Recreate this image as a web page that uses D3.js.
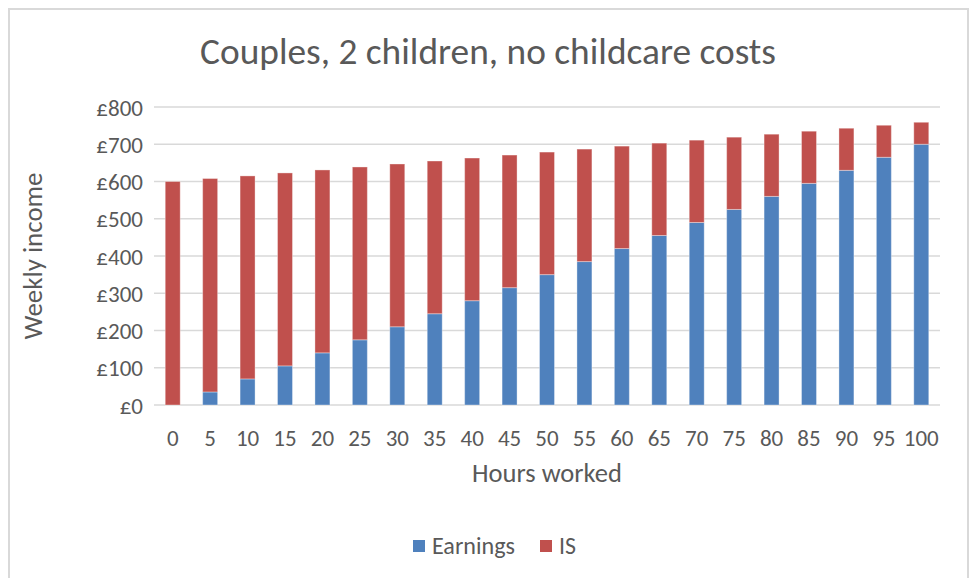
<!DOCTYPE html>
<html><head><meta charset="utf-8">
<script src="https://cdn.jsdelivr.net/npm/d3@7"></script>
<style>body{margin:0;background:#fff}svg{display:block}text{font-family:Carlito,"Open Sans",sans-serif;fill:#595959}</style>
</head><body><svg id="c" width="970" height="578"></svg>
<script>
const hours = [0,5,10,15,20,25,30,35,40,45,50,55,60,65,70,75,80,85,90,95,100];
const earnings = [0,35,70,105,140,175,210,245,280,315,350,385,420,455,490,525,560,595,630,665,700];
const isBenefit = [600,573,545,518,491,464,437,410,383,356,329,302,275,248,221,194,167,140,113,86,59];
const yTicks = [0,100,200,300,400,500,600,700,800];
const seriesNames = ["Earnings","IS"];
const colors = ["#4f81bd","#c0504d"];

const svg = d3.select("#c");
svg.append("rect").attr("x",9).attr("y",9).attr("width",959).attr("height",600)
  .attr("fill","#fff").attr("stroke","#d9d9d9").attr("stroke-width",2);

const L=154,R=940,T=107,B=405;
const x = d3.scaleBand().domain(hours).range([L,R]).paddingInner(0.6).paddingOuter(0.3);
const y = d3.scaleLinear().domain([0,800]).range([B,T]);

function fit(sel, w){ sel.each(function(){ const t=d3.select(this); const fs=+t.attr("font-size"); const l=this.getComputedTextLength(); t.attr("font-size", fs*w/l); }); }

svg.append("g").selectAll("line").data(yTicks).join("line")
  .attr("x1",L).attr("x2",R).attr("y1",d=>y(d)).attr("y2",d=>y(d))
  .attr("stroke","#d9d9d9").attr("stroke-width",1.5);

const rows = hours.map((h,i)=>({h, e:earnings[i], s:isBenefit[i]}));
const stack = d3.stack().keys(["e","s"])(rows);
svg.append("g").selectAll("g").data(stack).join("g").attr("fill",(d,i)=>colors[i])
  .selectAll("rect").data(d=>d).join("rect")
  .attr("x",d=>x(d.data.h)).attr("width",x.bandwidth())
  .attr("y",d=>y(d[1])).attr("height",d=>Math.max(0,y(d[0])-y(d[1])))
  .attr("stroke","rgba(255,255,255,0.35)").attr("stroke-width",1);

const yAxis = d3.axisLeft(y).tickValues(yTicks).tickFormat(d=>"£"+d).tickSize(0).tickPadding(0);
const ya = svg.append("g").attr("transform",`translate(${143},0)`).call(yAxis);
ya.select(".domain").remove();
ya.selectAll("text").attr("font-size",23).attr("fill","#595959").attr("dy","0.35em");

const xAxis = d3.axisBottom(x).tickSize(0).tickPadding(0);
const xa = svg.append("g").attr("transform",`translate(0,${446})`).call(xAxis);
xa.select(".domain").remove();
xa.selectAll("text").attr("font-size",23).attr("fill","#595959").attr("dy",0);

svg.append("text").attr("x",488).attr("y",64).attr("text-anchor","middle").attr("font-size",30)
  .text("Couples, 2 children, no childcare costs").call(fit,576);
svg.append("text").attr("x",547).attr("y",482).attr("text-anchor","middle").attr("font-size",22)
  .text("Hours worked").call(fit,150);
svg.append("text").attr("transform","translate(42,256) rotate(-90)").attr("text-anchor","middle").attr("font-size",22)
  .text("Weekly income").call(fit,167);

const lg = svg.append("g");
const lx=[413,540];
const lw=[83,17];
seriesNames.forEach((n,i)=>{
  lg.append("rect").attr("x",lx[i]).attr("y",540).attr("width",12).attr("height",12).attr("fill",colors[i]);
  lg.append("text").attr("x",lx[i]+19).attr("y",554).attr("font-size",22).text(n).call(fit,lw[i]);
});
</script></body></html>
